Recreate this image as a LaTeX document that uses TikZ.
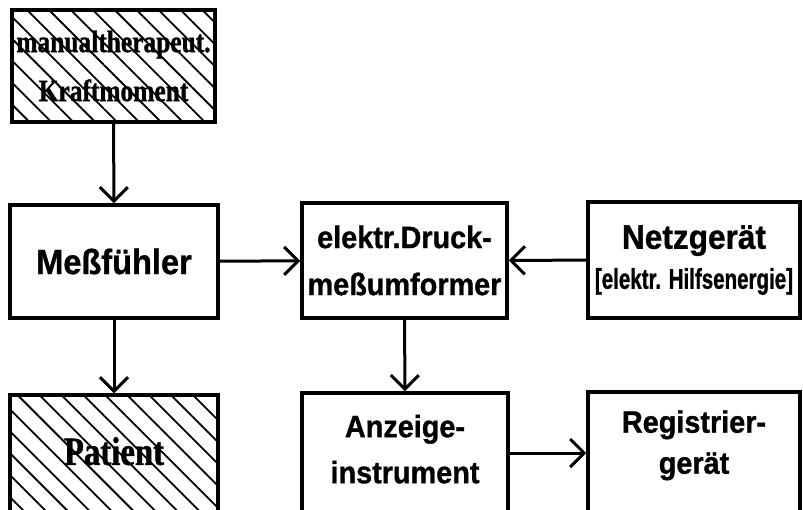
\documentclass[tikz,border=0pt]{standalone}
\usepackage{fontspec}
\setmainfont{Liberation Sans}[FakeStretch=0.93, BoldFeatures={FakeBold=1}]
\newfontfamily\narrowserif{Liberation Serif}[FakeStretch=0.82, BoldFeatures={FakeBold=1}]
\newfontfamily\narrowsans{Liberation Sans}[FakeStretch=0.72, BoldFeatures={FakeBold=1}]
\usetikzlibrary{arrows.meta,patterns.meta}

\begin{document}
\begin{tikzpicture}[x=1pt, y=-1pt, >={Straight Barb[length=14pt,width=28pt]},
    box/.style={draw, line width=3.5pt, inner sep=0pt, align=center, font=\bfseries\fontsize{31}{46}\selectfont},
    hatched/.style={box, pattern={Lines[angle=-45,distance=15.5pt,line width=1.8pt]}},
    conn/.style={->, line width=3pt}]
	\useasboundingbox (0,0) rectangle (803,509);
	\clip (0,0) rectangle (803,509);
	% linke Spalte
	\node[hatched, minimum width=203pt, minimum height=112pt, font=\narrowserif\bfseries\fontsize{31}{49}\selectfont] (kraft) at (113.5,66) {manualtherapeut.\\Kraftmoment};
	\node[box, minimum width=208pt, minimum height=113pt, font=\bfseries\fontsize{35}{46}\selectfont] (mess) at (114,261.5) {Meßfühler};
	\node[hatched, minimum width=208pt, minimum height=120pt, text depth=8pt, font=\narrowserif\bfseries\fontsize{40}{46}\selectfont] (pat) at (114,455) {Patient};
	% mittlere Spalte
	\node[box, minimum width=205pt, minimum height=115pt, font=\bfseries\fontsize{31}{47}\selectfont] (druck) at (404.5,260.5) {elektr.Druck-\\meßumformer};
	\node[box, minimum width=206pt, minimum height=120pt, text depth=8pt] (anz) at (405,453) {Anzeige-\\instrument};
	% rechte Spalte
	\node[box, minimum width=212pt, minimum height=116pt, font=\bfseries\fontsize{34}{40}\selectfont] (netz) at (694,260) {Netzgerät\\{\narrowsans\fontsize{28.5}{40}\selectfont[elektr. Hilfsenergie]}};
	\node[box, minimum width=212pt, minimum height=122pt, text depth=22pt, font=\bfseries\fontsize{31}{41}\selectfont] (reg) at (694,453) {Registrier-\\gerät};
	% Verbindungen
	\draw[conn] (kraft) -- (mess);
	\draw[conn] (mess) -- (pat);
	\draw[conn] (mess) -- (druck);
	\draw[conn] (netz) -- (druck);
	\draw[conn] (druck) -- (anz);
	\draw[conn] (anz) -- (reg);
\end{tikzpicture}
\end{document}
